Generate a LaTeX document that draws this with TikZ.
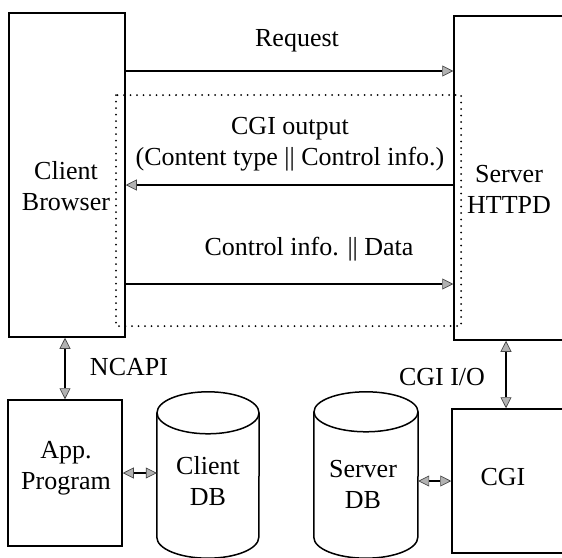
\documentclass[tikz,border=0pt]{standalone}
\usepackage{fontspec}
\setmainfont{Liberation Serif}
\usetikzlibrary{arrows.meta,calc}

\tikzset{
  blk/.style={draw, line width=1.5pt, inner sep=0pt},
  hole/.style={inner sep=0pt},
  txt/.style={align=center, inner sep=0pt, font=\fontsize{26}{31}\selectfont},
  gtip/.tip={Triangle[length=11pt,width=11pt,fill=gray!60,color=gray!55!black,line width=0.7pt]},
  arr/.style={line width=1.5pt, -gtip},
  darr/.style={line width=1.5pt, gtip-gtip},
  can/.style={draw, line width=1.5pt},
  frame/.style={line width=2pt, line cap=round, dash pattern=on 0pt off 6.5pt}
}

\begin{document}
\begin{tikzpicture}[x=1pt,y=-1pt]
\useasboundingbox (0,0) rectangle (562,557);
\clip (0,0) rectangle (562,557);

% main boxes
\node[blk, minimum width=116pt, minimum height=324pt] (cb)  at (67,175)  {};
\node[blk, minimum width=146pt, minimum height=324pt] (srv) at (527,178) {};
\node[blk, minimum width=114pt, minimum height=146pt] (app) at (65,473)  {};
\node[blk, minimum width=148pt, minimum height=144pt] (cgi) at (526,481) {};

% database bodies
\node[hole, minimum width=102pt, minimum height=124pt] (cdb) at (208,475) {};
\node[hole, minimum width=104pt, minimum height=125pt] (sdb) at (366,474.5) {};

\draw[can] (cdb.north west) -- (cdb.south west)
  arc[start angle=180, end angle=0, x radius=51, y radius=21] -- (cdb.north east);
\draw[can] (cdb.north) ellipse[x radius=51, y radius=21];
\draw[can] (sdb.north west) -- (sdb.south west)
  arc[start angle=180, end angle=0, x radius=52, y radius=21] -- (sdb.north east);
\draw[can] (sdb.north) ellipse[x radius=52, y radius=20];

% dotted envelope of the CGI exchange
\draw[frame] (116,95) rectangle (461,326);

% labels
\node[txt] (tcb)  at (66,186.5)  {Client\\Browser};
\node[txt] (tsrv) at (509,189.5) {Server\\HTTPD};
\node[txt] (tapp) at (66,468)    {App.\\Program};
\node[txt] (tcdb) at (208,481.5) {Client\\DB};
\node[txt] (tsdb) at (363,484.5) {Server\\DB};
\node[txt] (tcgi) at (503,477)   {CGI};
\node[txt, anchor=base] (lreq) at (297,46) {Request};
\node[txt] (lout) at (290,144.5) {CGI output\\(Content type || Control info.)};
\node[txt, anchor=base] (ldat) at (309,255) {Control info. || Data};
\node[txt, anchor=base] (lnc)  at (129,375) {NCAPI};
\node[txt, anchor=base] (lio)  at (442,385) {CGI I/O};

% message arrows
\draw[arr] (cb.east |- 0,71)  -- (srv.west |- 0,71);
\draw[arr] (srv.west |- 0,185) -- (cb.east |- 0,185);
\draw[arr] (cb.east |- 0,284) -- (srv.west |- 0,284);

% local interfaces
\draw[darr] (cb.south -| app.north) -- (app.north);
\draw[darr] (srv.south -| 506,0) -- (cgi.north -| 506,0);
\draw[darr] (app.east) -- (app.east -| cdb.west);
\draw[darr] (sdb.east |- cgi.west) -- (cgi.west);
\end{tikzpicture}
\end{document}
